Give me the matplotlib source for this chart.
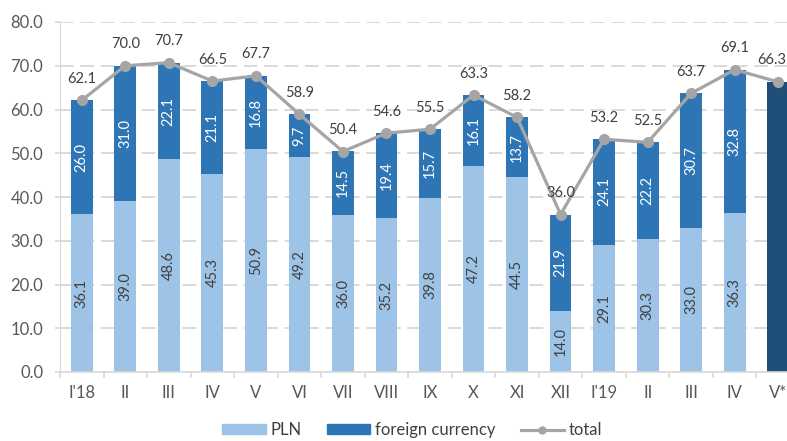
import matplotlib
matplotlib.use("Agg")
import matplotlib.pyplot as plt
from matplotlib.patches import Patch
from matplotlib.lines import Line2D
import numpy as np

plt.rcParams['font.family'] = ['Lato', 'DejaVu Sans']

categories = ["I'18", "II", "III", "IV", "V", "VI", "VII", "VIII", "IX", "X", "XI", "XII",
              "I'19", "II", "III", "IV", "V*"]
pln = [36.1, 39.0, 48.6, 45.3, 50.9, 49.2, 36.0, 35.2, 39.8, 47.2, 44.5, 14.0,
       29.1, 30.3, 33.0, 36.3]
foreign = [26.0, 31.0, 22.1, 21.1, 16.8, 9.7, 14.5, 19.4, 15.7, 16.1, 13.7, 21.9,
           24.1, 22.2, 30.7, 32.8]
total = [62.1, 70.0, 70.7, 66.5, 67.7, 58.9, 50.4, 54.6, 55.5, 63.3, 58.2, 36.0,
         53.2, 52.5, 63.7, 69.1, 66.3]
yticks = [0, 10, 20, 30, 40, 50, 60, 70, 80]

c_pln = '#9DC3E6'
c_for = '#2E75B6'
c_last = '#1F4E79'
c_tot = '#A5A5A5'
c_txt = '#404040'

fig = plt.figure(figsize=(7.87, 4.41), dpi=100)
ax = fig.add_axes([60/787, 69/441, 740/787, 350/441])

n = len(pln)
x = np.arange(len(categories))
w = 0.5
ax.bar(x[:n], pln, w, color=c_pln, zorder=2)
ax.bar(x[:n], foreign, w, bottom=pln, color=c_for, zorder=2)
ax.bar(x[n:], total[n:], w, color=c_last, zorder=2)

ax.plot(x, total, color=c_tot, lw=2.3, marker='o', ms=7, zorder=3)

for i in range(n):
    ax.text(x[i], pln[i] / 2, f"{pln[i]:.1f}", rotation=90, ha='center', va='center',
            fontsize=10.5, color=c_txt, zorder=4)
    ax.text(x[i], pln[i] + foreign[i] / 2, f"{foreign[i]:.1f}", rotation=90, ha='center',
            va='center', fontsize=10.5, color='white', zorder=4)
for i, t in enumerate(total):
    dx = -5 if i == len(total) - 1 else 0
    ax.annotate(f"{t:.1f}", (x[i], t), xytext=(dx, 15.5), textcoords='offset points',
                ha='center', va='center', fontsize=10.5, color=c_txt, zorder=4)

ax.set_xlim(-0.5, len(categories) - 0.5)
ax.set_ylim(0, 80)
ax.set_yticks(yticks)
ax.set_yticklabels([f"{v:.1f}" for v in yticks], fontsize=12, color='#595959')
ax.set_xticks(x)
ax.set_xticklabels(categories, fontsize=12, color='#595959')
ax.tick_params(axis='x', length=0, pad=9)
ax.tick_params(axis='y', length=3.6, color='#D9D9D9', width=1.2, pad=8.5)
ax.set_xticks(np.arange(-0.5, len(categories), 1), minor=True)
ax.tick_params(axis='x', which='minor', length=4, color='#D9D9D9', width=1.2)

ax.yaxis.grid(True, color='#D9D9D9', lw=1.4, ls=(0, (7, 3.5)), zorder=0)
for s in ['top', 'right']:
    ax.spines[s].set_visible(False)
ax.spines['left'].set_color('#D9D9D9')
ax.spines['bottom'].set_color('#D9D9D9')
ax.spines['bottom'].set_linewidth(1.2)

handles = [Patch(color=c_pln, label='PLN'),
           Patch(color=c_for, label='foreign currency'),
           Line2D([0], [0], color=c_tot, lw=2.3, marker='o', ms=5, label='total')]
leg = fig.legend(handles=handles, loc='center', bbox_to_anchor=(0.524, 11/441), ncol=3,
                 frameon=False, fontsize=12, handlelength=2.6, handleheight=0.5,
                 columnspacing=1.5, handletextpad=0.3, borderpad=0)
for t in leg.get_texts():
    t.set_color('#404040')

fig.savefig('out.png', dpi=100)
